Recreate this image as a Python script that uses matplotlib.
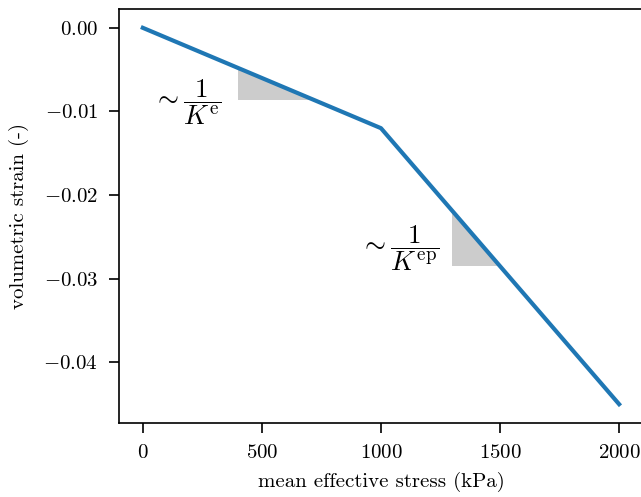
import matplotlib
matplotlib.use("Agg")
import matplotlib.pyplot as plt
import numpy as np

# bilinear compression curve: mean effective stress (kPa) vs volumetric strain (-)
stress = [0, 1000, 2000]
strain = [0.0, -0.012, -0.045]

# slope triangles: x-range along each branch
tri_e = [400, 720]
tri_ep = [1300, 1500]

plt.rcParams["font.family"] = "serif"
plt.rcParams["font.serif"] = ["cmr10"]
plt.rcParams["mathtext.fontset"] = "cm"
plt.rcParams["axes.formatter.use_mathtext"] = True
plt.rcParams["font.size"] = 10


def curve(x):
    return np.interp(x, stress, strain)


fig = plt.figure(figsize=(641 / 150, 497 / 150), dpi=150)
ax = fig.add_axes([119 / 641, 1 - 423 / 497, 1.003 - 119 / 641, (423 - 9) / 497])

for x0, x1 in (tri_e, tri_ep):
    y0, y1 = curve(x0), curve(x1)
    ax.fill([x0, x0, x1], [y0, y1, y1], color="#cccccc", lw=0)

ax.plot(stress, strain, color="#1f77b4", lw=2)

ax.text(330, -0.0089, r"$\sim\dfrac{1}{K^{\mathrm{e}}}$", fontsize=13,
        ha="right", va="center")
ax.text(1245, -0.0263, r"$\sim\dfrac{1}{K^{\mathrm{ep}}}$", fontsize=13,
        ha="right", va="center")

ax.set_xlim(-100, 2100)
ax.set_ylim(-0.04725, 0.00225)
ax.set_xticks([0, 500, 1000, 1500, 2000])
ax.set_yticks([0.0, -0.01, -0.02, -0.03, -0.04])
ax.tick_params(length=5, pad=5)
ax.set_xlabel("mean effective stress (kPa)", labelpad=5)
ax.set_ylabel("volumetric strain (-)", labelpad=7)

fig.savefig("out.png", dpi=150)
